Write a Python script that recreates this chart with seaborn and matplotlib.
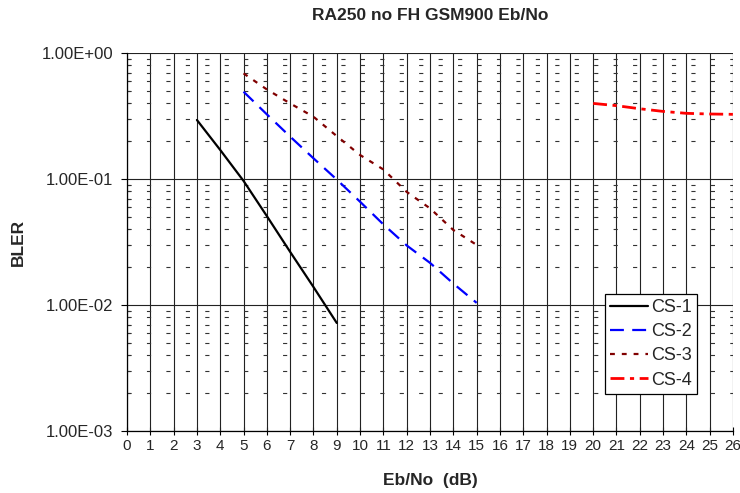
import matplotlib
matplotlib.use("Agg")
import matplotlib.pyplot as plt
from matplotlib.ticker import LogLocator, FixedLocator, NullFormatter
import numpy as np
import pandas as pd
import seaborn as sns

# Block error rate vs Eb/No for the four GPRS coding schemes
cs1_x = [3, 4, 5, 6, 7, 8, 9]
cs1_y = [0.294, 0.170, 0.0966, 0.0508, 0.0264, 0.0139, 0.0072]

cs2_x = [5, 6, 7, 8, 9, 10, 11, 12, 13, 14, 15]
cs2_y = [0.493, 0.326, 0.217, 0.146, 0.099, 0.066, 0.0436, 0.0297, 0.0216, 0.0148, 0.0104]

cs3_x = [5, 6, 7, 8, 9, 10, 11, 12, 13, 14, 15]
cs3_y = [0.689, 0.514, 0.398, 0.312, 0.219, 0.155, 0.119, 0.079, 0.0585, 0.0394, 0.030]

cs4_x = [20, 21, 22, 23, 24, 25, 26]
cs4_y = [0.398, 0.382, 0.361, 0.344, 0.332, 0.328, 0.326]

series_names = ["CS-1", "CS-2", "CS-3", "CS-4"]
x_ticks = list(range(0, 27))
y_ticks = [1e-3, 1e-2, 1e-1, 1e0]
y_tick_labels = ["1.00E-03", "1.00E-02", "1.00E-01", "1.00E+00"]

title = "RA250 no FH GSM900 Eb/No"
x_label = "Eb/No  (dB)"
y_label = "BLER"

sns.set_theme(style="white")
plt.rcParams["font.family"] = ["Liberation Sans", "DejaVu Sans"]
plt.rcParams["lines.scale_dashes"] = False

frames = []
for name, xs, ys in zip(series_names, [cs1_x, cs2_x, cs3_x, cs4_x],
                        [cs1_y, cs2_y, cs3_y, cs4_y]):
    frames.append(pd.DataFrame({"ebno": xs, "bler": ys, "series": name}))
df = pd.concat(frames, ignore_index=True)

styles = {
    "CS-1": dict(color="#000000", lw=1.6, dashes=None),
    "CS-2": dict(color="#0000FF", lw=1.6, dashes=(10, 6)),
    "CS-3": dict(color="#800000", lw=1.6, dashes=(3.5, 5)),
    "CS-4": dict(color="#FF0000", lw=2.0, dashes=(10, 4, 3, 4)),
}

fig = plt.figure(figsize=(7.40, 4.93), dpi=100)
ax = fig.add_axes([127 / 740, 1 - 431 / 493, (733 - 127) / 740, (431 - 53) / 493])
ax.set_facecolor("white")

for name in series_names:
    st = styles[name]
    sub = df[df["series"] == name]
    sns.lineplot(data=sub, x="ebno", y="bler", ax=ax, color=st["color"],
                 linewidth=st["lw"], label=name, zorder=5)
    line = ax.get_lines()[-1]
    if st["dashes"] is not None:
        line.set_dashes(st["dashes"])

ax.set_yscale("log")
ax.set_xlim(0, 26)
ax.set_ylim(1e-3, 1e0)

# grid: solid verticals at every integer, solid decades, dashed minor levels
for xv in x_ticks:
    ax.axvline(xv, color="#222222", lw=0.8, zorder=1)
for yv in y_ticks:
    ax.axhline(yv, color="#222222", lw=0.8, zorder=1)
for dec in [1e-3, 1e-2, 1e-1]:
    for m in range(2, 10):
        ax.axhline(dec * m, color="#333333", lw=0.8, dashes=(3, 11), zorder=1)

ax.xaxis.set_major_locator(FixedLocator(x_ticks))
ax.set_xticklabels([str(v) for v in x_ticks])
ax.yaxis.set_major_locator(FixedLocator(y_ticks))
ax.set_yticklabels(y_tick_labels)
ax.yaxis.set_minor_locator(LogLocator(base=10, subs=np.arange(2, 10)))
ax.yaxis.set_minor_formatter(NullFormatter())

ax.tick_params(axis="x", which="major", direction="inout", length=6, width=0.8,
               color="black", labelsize=11, pad=3, bottom=True)
ax.tick_params(axis="y", which="major", direction="out", length=4, width=0.8,
               color="black", labelsize=12, pad=6, left=True)
ax.tick_params(axis="y", which="minor", direction="in", length=2.5, width=0.8,
               color="black", left=True)

for side in ["top", "right"]:
    ax.spines[side].set_visible(False)
for side in ["left", "bottom"]:
    ax.spines[side].set_visible(True)
    ax.spines[side].set_color("black")
    ax.spines[side].set_linewidth(0.9)

ax.set_xlabel("")
ax.set_ylabel("")

leg = ax.legend(loc="lower right", bbox_to_anchor=(697 / 740, 1 - 394 / 493),
                bbox_transform=fig.transFigure, frameon=True, fancybox=False,
                framealpha=1, edgecolor="black", fontsize=13,
                handlelength=2.1, handletextpad=0.15, labelspacing=0.4,
                borderpad=0.3, borderaxespad=0)
leg.get_frame().set_linewidth(0.9)
leg.set_zorder(10)

fig.text(430 / 740, 1 - 16 / 493, title, ha="center", va="center",
         fontsize=12.5, fontweight="bold")
fig.text(430 / 740, 1 - 480 / 493, x_label, ha="center", va="center",
         fontsize=12.5, fontweight="bold")
fig.text(18 / 740, 1 - 242 / 493, y_label, ha="center", va="center",
         rotation=90, fontsize=12.5, fontweight="bold")

fig.savefig("out.png", dpi=100, facecolor="white")
